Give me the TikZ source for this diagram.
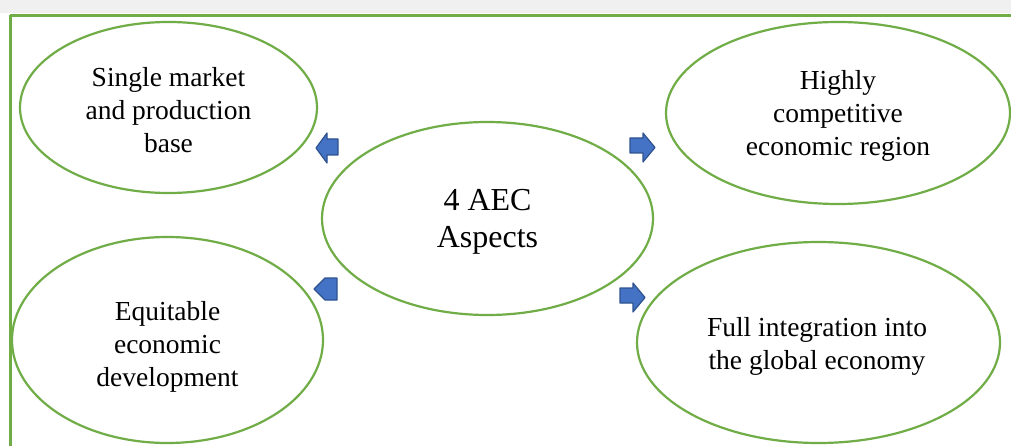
\documentclass[tikz,border=0pt]{standalone}
\usepackage{fontspec}
\setmainfont{Liberation Serif}
\usetikzlibrary{shapes.geometric}
\definecolor{frgreen}{HTML}{70AD47}
\definecolor{arrblue}{HTML}{4472C4}
\definecolor{arrdark}{HTML}{2F528F}
\definecolor{bandgray}{HTML}{F0F0F0}
\tikzset{
  ell/.style={ellipse, draw=frgreen, line width=2.2pt, inner sep=0pt},
  txt/.style={align=center, font=\fontsize{27.5}{33}\selectfont, text=black, inner sep=0pt},
  bigtxt/.style={align=center, font=\fontsize{32}{37}\selectfont, text=black, inner sep=0pt},
  blockarrow/.style={fill=arrblue, draw=arrdark, line width=1.2pt, line join=round},
}
\begin{document}
\begin{tikzpicture}[x=1pt,y=-1pt]
\useasboundingbox (0,0) rectangle (1011,446);
\clip (0,0) rectangle (1011,446);
\fill[white] (0,0) rectangle (1011,446);
\fill[bandgray] (0,0) rectangle (1011,13);
\draw[frgreen, line width=3pt] (10,15.5) -- (1030,15.5) (10,15.5) -- (10,470);
% ellipses
\node[ell, minimum width=297pt, minimum height=171pt] (sm) at (168.5,107.5) {};
\node[txt] (smt) at (168.5,110.5) {Single market\\and production\\base};
\node[ell, minimum width=344pt, minimum height=182pt] (hc) at (838,113) {};
\node[txt] (hct) at (838,115.5) {Highly\\competitive\\economic region};
\node[ell, minimum width=331pt, minimum height=193pt] (aec) at (487.5,218.5) {};
\node[bigtxt] (aect) at (487.5,222) {4 AEC\\Aspects};
\node[ell, minimum width=311pt, minimum height=206pt] (eq) at (167.5,340) {};
\node[txt] (eqt) at (167.5,347) {Equitable\\economic\\development};
\node[ell, minimum width=363pt, minimum height=201pt] (fi) at (818.5,342.5) {};
\node[txt] (fit) at (817,346.5) {Full integration into\\the global economy};
% block arrows
\draw[blockarrow] (316,148) -- (327,133) -- (327,139) -- (338,139) -- (338,155) -- (327,155) -- (327,163) -- cycle;
\draw[blockarrow] (314,289) -- (325,278) -- (337,278) -- (337,300) -- (325,300) -- cycle;
\draw[blockarrow] (655,147.5) -- (643,133) -- (643,138) -- (630,138) -- (630,153) -- (643,153) -- (643,162) -- cycle;
\draw[blockarrow] (645,297.5) -- (633,283) -- (633,288) -- (620,288) -- (620,303) -- (633,303) -- (633,312) -- cycle;
\end{tikzpicture}
\end{document}
